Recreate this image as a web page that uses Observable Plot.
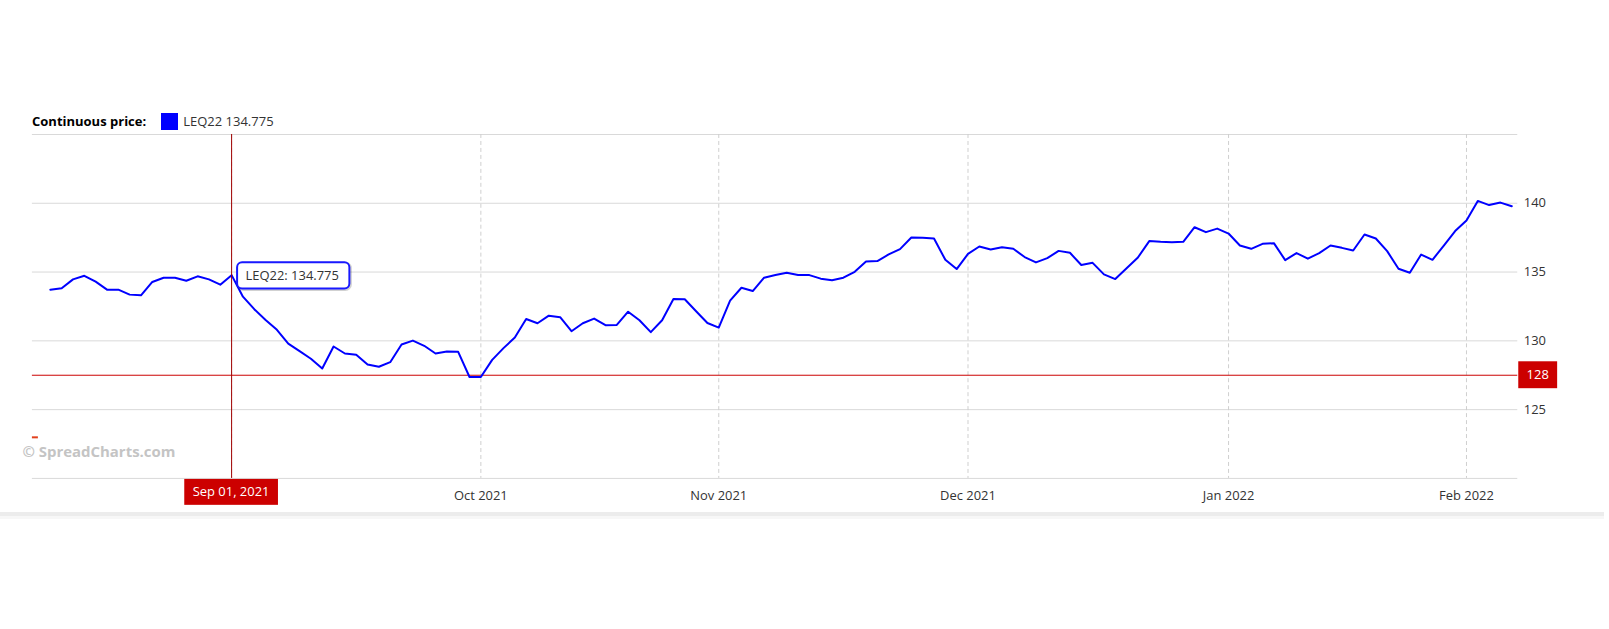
<!DOCTYPE html>
<html>
<head>
<meta charset="utf-8">
<script src="https://cdn.jsdelivr.net/npm/d3@7"></script>
<script src="https://cdn.jsdelivr.net/npm/@observablehq/plot@0.6"></script>
<style>
  body { margin: 0; background: #fff; font-family: "Open Sans", sans-serif; }
  #card { position: relative; width: 1604px; height: 512px; background: #fff; }
  #legend { position: absolute; left: 32px; top: 111px; height: 20px; display: flex; align-items: center; font-size: 13px; color: #333; white-space: nowrap; }
  #legend b { color: #000; font-weight: 700; font-size: 13px; margin-right: 15px; }
  #legend .sw { width: 17px; height: 17px; background: #0000ff; margin-right: 5px; }
  #chart { position: absolute; left: 0; top: 131px; }
  #band { position: absolute; left: 0; top: 512px; width: 1604px; height: 4px; background: #ececec; }
  #band2 { position: absolute; left: 0; top: 516px; width: 1604px; height: 3px; background: #f7f7f7; }
</style>
</head>
<body>
<div id="card">
  <div id="legend"></div>
  <div id="chart"></div>
</div>
<div id="band"></div>
<div id="band2"></div>
<script>
// ---- data ----
const legendTitle = "Continuous price:";
const seriesName = "LEQ22";
const startDate = "2021-08-10";
const endDate = "2022-02-07";
const prices = [
  133.72, 133.82, 134.47, 134.73, 134.30, 133.72, 133.72, 133.36, 133.31, 134.28,
  134.59, 134.59, 134.37, 134.69, 134.47, 134.08, 134.775, 133.21, 132.30, 131.52,
  130.80, 129.80, 129.25, 128.70, 127.99, 129.59, 129.08, 128.99, 128.28, 128.12,
  128.45, 129.73, 130.02, 129.64, 129.08, 129.22, 129.20, 127.37, 127.37, 128.62,
  129.47, 130.24, 131.59, 131.28, 131.83, 131.72, 130.70, 131.28, 131.62, 131.14,
  131.16, 132.12, 131.50, 130.63, 131.50, 133.04, 133.02, 132.15, 131.30, 130.96,
  132.92, 133.86, 133.62, 134.59, 134.78, 134.95, 134.78, 134.78, 134.52, 134.40,
  134.59, 135.02, 135.77, 135.80, 136.28, 136.67, 137.51, 137.49, 137.44, 135.89,
  135.22, 136.32, 136.86, 136.64, 136.81, 136.69, 136.09, 135.70, 136.01, 136.54,
  136.40, 135.51, 135.67, 134.83, 134.49, 135.27, 136.06, 137.25, 137.20, 137.17,
  137.20, 138.26, 137.90, 138.16, 137.80, 136.93, 136.69, 137.05, 137.10, 135.87,
  136.38, 135.97, 136.38, 136.93, 136.76, 136.57, 137.73, 137.44, 136.52, 135.24,
  134.95, 136.27, 135.89, 136.93, 137.98, 138.75, 140.17, 139.87, 140.05, 139.78
];
const yDomain = [120, 145];
const yGrid = [120, 125, 130, 135, 140, 145];
const yTicks = [125, 130, 135, 140];
const levelValue = 127.5;
const levelLabel = "128";
const cursorDate = "2021-09-01";
const cursorValue = 134.775;
const watermark = "© SpreadCharts.com";

// ---- derived: weekday calendar (trading-day x axis) ----
const dates = d3.utcDay.range(new Date(startDate), d3.utcDay.offset(new Date(endDate), 1))
  .filter(d => d.getUTCDay() % 6 !== 0);
const rows = prices.map((p, i) => ({ i, date: dates[i], price: p }));
const monthTicks = rows.filter((r, i) => i > 0 && r.date.getUTCMonth() !== rows[i - 1].date.getUTCMonth()).map(r => r.i);
const fmtMonth = d3.utcFormat("%b %Y");
const fmtDay = d3.utcFormat("%b %d, %Y");
const cursorIndex = rows.findIndex(r => +r.date === +new Date(cursorDate));
const labelTicks = monthTicks.filter(i => i !== cursorIndex); // hidden behind the cursor label

// legend
document.getElementById("legend").innerHTML =
  `<b>${legendTitle}</b><span class="sw"></span><span>${seriesName}&nbsp;${cursorValue}</span>`;

const plot = Plot.plot({
  width: 1609,
  height: 392,
  marginLeft: 50,
  marginRight: 93,
  marginTop: 3,
  marginBottom: 44,
  style: { fontFamily: '"Open Sans", sans-serif', fontSize: "13px", background: "transparent", overflow: "visible", color: "#333" },
  x: { domain: [0, rows.length - 1], axis: null, label: null },
  y: { domain: yDomain, axis: null, label: null },
  marks: [
    Plot.ruleY(yGrid, { stroke: "#d9d9d9", strokeOpacity: 1, insetLeft: -18, insetRight: -6 }),
    Plot.ruleX(monthTicks, { stroke: "#cfcfcf", strokeOpacity: 1, strokeDasharray: "4,3" }),
    Plot.ruleY([levelValue], { stroke: "#cc0000", strokeOpacity: 1, insetLeft: -18, insetRight: -6 }),
    Plot.line(rows, { x: "i", y: "price", stroke: "#0000ff", strokeWidth: 2 }),
    Plot.ruleX([cursorIndex], { stroke: "#a00000", strokeOpacity: 1 }),
    Plot.axisY({ anchor: "right", ticks: yTicks, tickSize: 0, tickPadding: 12, fill: "#333", fontSize: 13, label: null }),
    Plot.axisX({ ticks: labelTicks, tickFormat: i => fmtMonth(rows[i].date), tickSize: 0, tickPadding: 12, fill: "#333", fontSize: 13, label: null }),
    Plot.text([watermark], { text: d => d, frameAnchor: "bottom-left", dx: -28, dy: -21, textAnchor: "start", fill: "#c4c4c4", fontWeight: "bold", fontSize: 15 })
  ]
});

document.getElementById("chart").append(plot);

// ---- annotations placed with Plot's scales ----
const svg = d3.select(plot);
const xs = plot.scale("x"), ys = plot.scale("y");
const plotBottom = ys.apply(yDomain[0]);
const plotRight = xs.apply(rows.length - 1);
const plotLeft = xs.apply(0) - 18;

// small red legend dash
svg.append("rect").attr("x", plotLeft).attr("y", ys.apply(122.95) - 1).attr("width", 6).attr("height", 2).attr("fill", "#e2401c");

// tooltip
const px = xs.apply(cursorIndex), py = ys.apply(cursorValue);
const tip = svg.append("g").attr("text-anchor", "start");
const shadow = tip.append("rect");
const box = tip.append("rect");
const tt = tip.append("text")
  .attr("x", px + 14.5).attr("y", py + 0.5).attr("dy", "0.35em")
  .attr("text-anchor", "start")
  .attr("fill", "#333").attr("font-size", 13)
  .text(`${seriesName}: ${cursorValue}`);
const tw = tt.node().getComputedTextLength();
shadow.attr("x", px + 7).attr("y", py - 11.5).attr("width", tw + 19).attr("height", 26.3).attr("rx", 5)
  .attr("fill", "none").attr("stroke", "rgba(0,0,0,0.18)").attr("stroke-width", 3);
box.attr("x", px + 6).attr("y", py - 12.4).attr("width", tw + 19).attr("height", 26.3).attr("rx", 5)
  .attr("fill", "#fff").attr("stroke", "#1818ff").attr("stroke-width", 2);

// cursor date label
const dg = svg.append("g");
dg.append("rect").attr("x", px - 47).attr("y", plotBottom + 1).attr("width", 94).attr("height", 26).attr("fill", "#cc0000");
dg.append("text").attr("x", px).attr("y", plotBottom + 14).attr("dy", "0.35em").attr("text-anchor", "middle")
  .attr("fill", "#fff").attr("font-size", 13).text(fmtDay(rows[cursorIndex].date));

// level label
const ly = ys.apply(levelValue);
const lg = svg.append("g");
lg.append("rect").attr("x", plotRight + 7).attr("y", ly - 13.5).attr("width", 39).attr("height", 27).attr("fill", "#cc0000");
lg.append("text").attr("x", plotRight + 26.5).attr("y", ly).attr("dy", "0.35em").attr("text-anchor", "middle")
  .attr("fill", "#fff").attr("font-size", 13).text(levelLabel);
</script>
</body>
</html>
